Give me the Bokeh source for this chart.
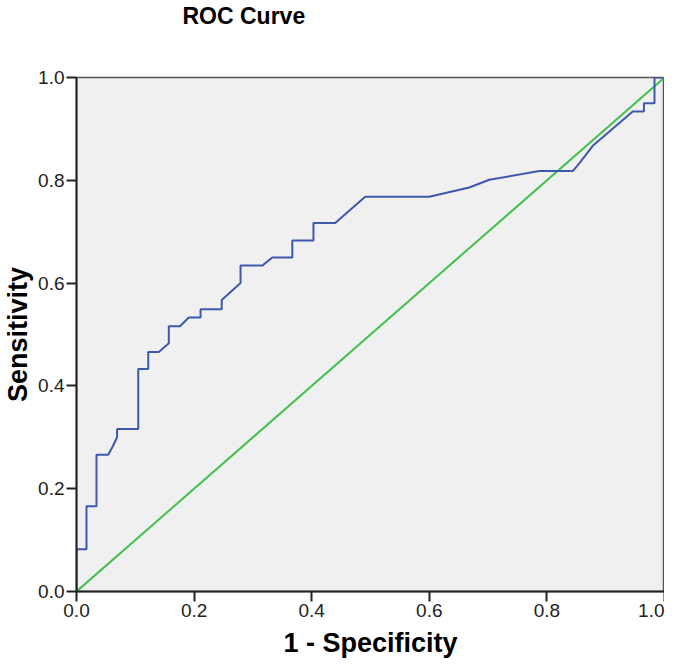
from bokeh.plotting import figure
from bokeh.models import Range1d, FixedTicker, CustomJSTickFormatter, Title
from bokeh.embed import file_html
from bokeh.resources import INLINE

# ROC curve points
fpr = [0.0, 0.0, 0.017, 0.017, 0.034, 0.034, 0.054, 0.062, 0.069, 0.069,
       0.105, 0.105, 0.122, 0.122, 0.140, 0.157, 0.157, 0.176, 0.191, 0.211,
       0.211, 0.247, 0.247, 0.279, 0.279, 0.316, 0.333, 0.367, 0.367, 0.403,
       0.403, 0.440, 0.491, 0.600, 0.668, 0.702, 0.787, 0.844, 0.855, 0.878,
       0.946, 0.965, 0.965, 0.983, 0.983, 1.0]
tpr = [0.0, 0.082, 0.082, 0.166, 0.166, 0.266, 0.266, 0.283, 0.300, 0.316,
       0.316, 0.433, 0.433, 0.466, 0.466, 0.483, 0.516, 0.516, 0.533, 0.533,
       0.549, 0.549, 0.567, 0.600, 0.634, 0.634, 0.650, 0.650, 0.683, 0.683,
       0.717, 0.717, 0.768, 0.768, 0.786, 0.801, 0.818, 0.818, 0.833, 0.867,
       0.934, 0.934, 0.950, 0.950, 1.0, 1.0]

# reference (chance) line
ref_x = [0.0, 1.0]
ref_y = [0.0, 1.0]

ticks = [0.0, 0.2, 0.4, 0.6, 0.8, 1.0]
title_text = "ROC Curve"

p = figure(frame_width=588, frame_height=514, output_backend="svg",
           toolbar_location=None, title=None,
           x_range=Range1d(0, 1), y_range=Range1d(0, 1),
           min_border_left=68, min_border_right=0, min_border_top=0,
           min_border_bottom=0)

# spacer between title and frame
p.add_layout(Title(text=" ", text_font_size="30px", standoff=14), "above")
p.add_layout(Title(text=title_text, align="left", offset=106, standoff=0,
                   text_font="Liberation Sans", text_font_size="23px",
                   text_font_style="bold", text_color="#000000"), "above")

p.background_fill_color = "#F0F0F0"
p.border_fill_color = "#FFFFFF"
p.outline_line_color = "#555555"
p.outline_line_width = 1.5
p.grid.visible = False

fmt = CustomJSTickFormatter(code="return tick.toFixed(1);")
for ax, lab in ((p.xaxis, "1 - Specificity"), (p.yaxis, "Sensitivity")):
    ax.ticker = FixedTicker(ticks=ticks)
    ax.formatter = fmt
    ax.axis_label = lab
    ax.axis_label_text_font = "Liberation Sans"
    ax.axis_label_text_font_size = "27px"
    ax.axis_label_text_font_style = "bold"
    ax.axis_label_text_color = "#000000"
    ax.major_label_text_font = "Liberation Sans"
    ax.major_label_text_font_size = "19px"
    ax.major_label_text_color = "#222222"
    ax.minor_tick_line_color = None
    ax.major_tick_in = 0
    ax.major_tick_out = 10
    ax.major_tick_line_color = "#222222"
    ax.major_tick_line_width = 2
    ax.axis_line_color = "#222222"
    ax.axis_line_width = 2
    ax.major_label_standoff = 2
p.yaxis.axis_label_standoff = 2
p.xaxis.axis_label_standoff = 8

p.line(ref_x, ref_y, line_color="#44C04A", line_width=2)
p.line(fpr, tpr, line_color="#3E58AC", line_width=2)

open("out.html", "w").write(file_html(p, INLINE))
